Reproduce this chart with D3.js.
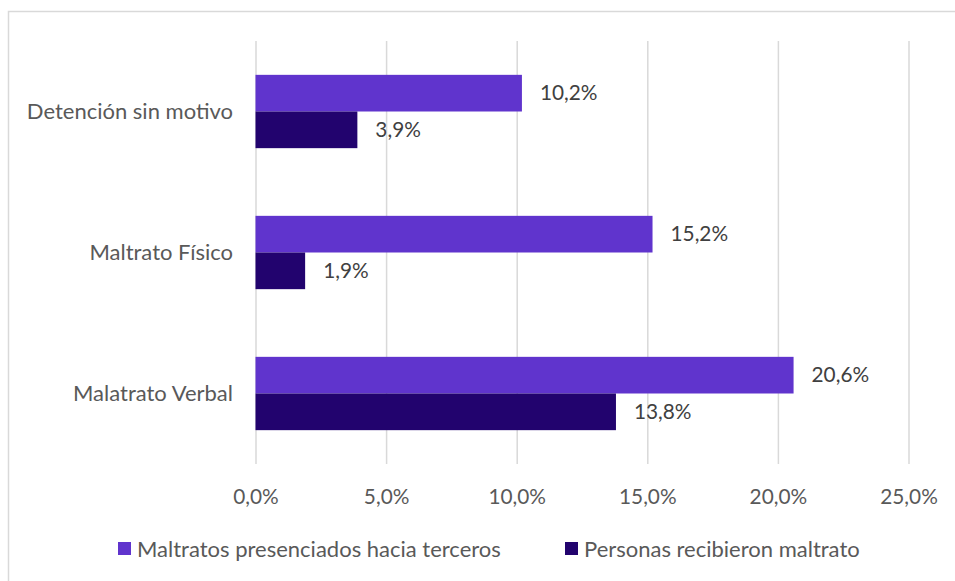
<!DOCTYPE html>
<html><head><meta charset="utf-8">
<script src="https://cdn.jsdelivr.net/npm/d3@7"></script>
<style>body{margin:0;background:#fff}svg{display:block}text{font-family:Lato,sans-serif}</style>
</head><body><svg id="c" width="955" height="581"></svg>
<script>
const categories = ["Detención sin motivo","Maltrato Físico","Malatrato Verbal"];
const seriesNames = ["Maltratos presenciados hacia terceros","Personas recibieron maltrato"];
const presenciados = [10.2, 15.2, 20.6];
const recibieron = [3.9, 1.9, 13.8];
const ticks = [0,5,10,15,20,25];
const colors = ["#6034CD","#22036E"];
const FS = 22, FN = 20.8;

const svg = d3.select("#c");
svg.append("rect").attr("x",8.5).attr("y",11.5).attr("width",1000).attr("height",1000)
  .attr("fill","none").attr("stroke","#d9d9d9").attr("stroke-width",1.5);

const x = d3.scaleLinear().domain([0,25]).range([255.5,908.5]);
const y = d3.scaleBand().domain(categories).range([41,464]).paddingInner(0.48).paddingOuter(0.24);
const sub = d3.scaleBand().domain([0,1]).range([0,y.bandwidth()]);
const fmt = v => v.toFixed(1).replace(".",",") + "%";

svg.append("g").selectAll("line").data(ticks).join("line")
  .attr("x1",d=>x(d)+0.5).attr("x2",d=>x(d)+0.5).attr("y1",41).attr("y2",464)
  .attr("stroke","#d9d9d9").attr("stroke-width",1.5);

const ax = svg.append("g").attr("transform","translate(0,497)")
  .call(d3.axisBottom(x).tickValues(ticks).tickSize(0).tickPadding(0).tickFormat(d=>fmt(d)));
ax.select(".domain").remove();
ax.selectAll("text").attr("fill","#595959").attr("font-size",FN).attr("dy","0.35em")
  .style("font-family","Lato,sans-serif");

const ay = svg.append("g").attr("transform","translate(233,0)")
  .call(d3.axisLeft(y).tickSize(0).tickPadding(0));
ay.select(".domain").remove();
ay.selectAll("text").attr("fill","#595959").attr("font-size",FS)
  .style("font-family","Lato,sans-serif");

const data = [];
categories.forEach((c,i)=>{
  data.push({c, s:0, v:presenciados[i]});
  data.push({c, s:1, v:recibieron[i]});
});
svg.append("g").selectAll("rect").data(data).join("rect")
  .attr("x",x(0)).attr("y",d=>y(d.c)+sub(d.s)).attr("height",sub.bandwidth())
  .attr("width",d=>x(d.v)-x(0)).attr("fill",d=>colors[d.s]);

svg.append("g").selectAll("text").data(data).join("text")
  .attr("x",d=>x(d.v)+18).attr("y",d=>y(d.c)+sub(d.s)+sub.bandwidth()/2)
  .attr("dy","0.35em").attr("fill","#404040").attr("font-size",FN).text(d=>fmt(d.v));

const legX = [118, 565];
const lg = svg.append("g").selectAll("g").data(seriesNames).join("g")
  .attr("transform",(d,i)=>`translate(${legX[i]},542)`);
lg.append("rect").attr("width",13).attr("height",13).attr("fill",(d,i)=>colors[i]);
lg.append("text").attr("x",19).attr("y",7).attr("dy","0.35em").attr("fill","#595959")
  .attr("font-size",FS).text(d=>d);
</script></body></html>
